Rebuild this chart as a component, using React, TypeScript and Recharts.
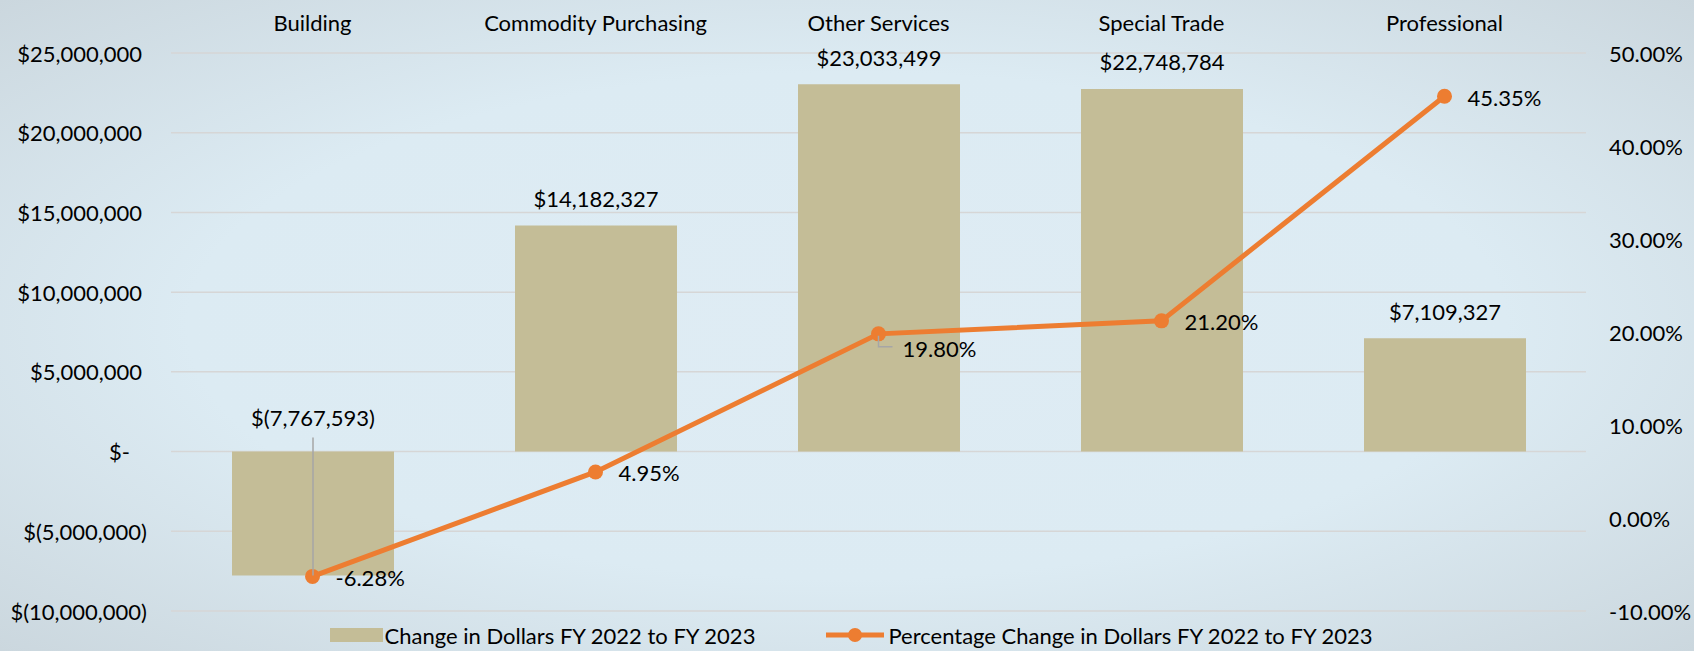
import React from "react";
import {
  ComposedChart,
  Bar,
  Line,
  XAxis,
  YAxis,
  CartesianGrid,
  Legend,
  LabelList,
} from "recharts";

const categories = [
  "Building",
  "Commodity Purchasing",
  "Other Services",
  "Special Trade",
  "Professional",
];
const dollarChange = [-7767593, 14182327, 23033499, 22748784, 7109327];
const percentChange = [-6.28, 4.95, 19.8, 21.2, 45.35];
const dollarTicks = [
  -10000000, -5000000, 0, 5000000, 10000000, 15000000, 20000000, 25000000,
];
const percentTicks = [-10, 0, 10, 20, 30, 40, 50];

const data = categories.map((name, i) => ({
  name,
  dollars: dollarChange[i],
  pct: percentChange[i],
}));

const FONT = "Lato, 'Open Sans', sans-serif";
const FONT_SIZE = 22;
const BAR_COLOR = "#c4bd97";
const LINE_COLOR = "#ed7d31";
const LEADER = "#a6a6a6";

const fmtDollar = (v: number) => {
  if (v === 0) return "$-";
  const s = Math.abs(v).toLocaleString("en-US");
  return v < 0 ? `$(${s})` : `$${s}`;
};

const textProps = {
  fontFamily: FONT,
  fontSize: FONT_SIZE,
  fill: "#000",
  dominantBaseline: "central" as const,
};

const LeftTick = ({ x, y, payload }: any) => {
  const v = payload.value;
  // accounting format: negatives hang the ")" out, zero shows "$-"
  const dx = v < 0 ? 5 : v === 0 ? -12 : 0;
  return (
    <text x={x + dx} y={y} textAnchor="end" {...textProps}>
      {fmtDollar(v)}
    </text>
  );
};

const RightTick = ({ x, y, payload }: any) => (
  <text x={x} y={y} textAnchor="start" {...textProps}>
    {`${Number(payload.value).toFixed(2)}%`}
  </text>
);

const TopTick = ({ x, y, payload }: any) => (
  <text x={x} y={y} textAnchor="middle" {...textProps}>
    {payload.value}
  </text>
);

const BarValueLabel = (props: any) => {
  const { x, y, width, height, value } = props;
  const cx = x + width / 2;
  const top = Math.min(y, y + height);
  const bottom = Math.max(y, y + height);
  if (value < 0) {
    // label was dragged above the baseline in the original, with a leader line
    return (
      <g>
        <line
          x1={cx}
          x2={cx}
          y1={top - 14}
          y2={bottom}
          stroke={LEADER}
          strokeWidth={1.5}
        />
        <text x={cx} y={top - 34} textAnchor="middle" {...textProps}>
          {fmtDollar(value)}
        </text>
      </g>
    );
  }
  return (
    <text x={cx} y={top - 27} textAnchor="middle" {...textProps}>
      {fmtDollar(value)}
    </text>
  );
};

const PctLabel = (props: any) => {
  const { x, y, value, index } = props;
  const label = `${Number(value).toFixed(2)}%`;
  if (index === 2) {
    return (
      <g>
        <polyline
          points={`${x},${y + 2} ${x},${y + 13} ${x + 14},${y + 13}`}
          fill="none"
          stroke={LEADER}
          strokeWidth={1.5}
        />
        <text x={x + 24} y={y + 15} textAnchor="start" {...textProps}>
          {label}
        </text>
      </g>
    );
  }
  return (
    <text x={x + 23} y={y + 1} textAnchor="start" {...textProps}>
      {label}
    </text>
  );
};

const renderLegend = () => (
  <div
    style={{
      display: "flex",
      justifyContent: "center",
      alignItems: "center",
      height: 40,
      paddingTop: 8,
      paddingLeft: 8,
      boxSizing: "border-box",
      fontFamily: FONT,
      fontSize: FONT_SIZE,
      color: "#000",
      whiteSpace: "nowrap",
    }}
  >
    <span
      style={{
        display: "inline-block",
        width: 53,
        height: 14,
        background: BAR_COLOR,
        marginRight: 2,
      }}
    />
    <span>Change in Dollars FY 2022 to FY 2023</span>
    <svg width={58} height={16} style={{ marginLeft: 71, marginRight: 4 }}>
      <line x1={0} x2={58} y1={8} y2={8} stroke={LINE_COLOR} strokeWidth={5} />
      <circle cx={29} cy={8} r={7} fill={LINE_COLOR} />
    </svg>
    <span>Percentage Change in Dollars FY 2022 to FY 2023</span>
  </div>
);

export default function App() {
  return (
    <div
      style={{
        position: "absolute",
        left: 0,
        top: 0,
        width: 1694,
        height: 651,
        background:
          "radial-gradient(ellipse at 50% 50%, #dfecf4 0%, #dcebf3 55%, #cbd7de 100%)",
        fontFamily: FONT,
      }}
    >
      <ComposedChart
        width={1694}
        height={651}
        data={data}
        margin={{ top: 0, right: 0, left: 0, bottom: 0 }}
      >
        <CartesianGrid
          yAxisId="left"
          vertical={false}
          stroke="#d6d6d6"
          strokeWidth={1.5}
        />
        <XAxis
          dataKey="name"
          orientation="top"
          height={53}
          axisLine={false}
          tickLine={false}
          tickSize={0}
          tickMargin={31}
          interval={0}
          tick={<TopTick />}
        />
        <YAxis
          yAxisId="left"
          width={171}
          domain={[-10000000, 25000000]}
          ticks={dollarTicks}
          axisLine={false}
          tickLine={false}
          tickSize={0}
          tickMargin={29}
          tick={<LeftTick />}
        />
        <YAxis
          yAxisId="right"
          orientation="right"
          width={108}
          domain={[-10, 50]}
          ticks={percentTicks}
          axisLine={false}
          tickLine={false}
          tickSize={0}
          tickMargin={23}
          tick={<RightTick />}
        />
        <Legend verticalAlign="bottom" height={40} content={renderLegend} />
        <Bar
          yAxisId="left"
          dataKey="dollars"
          name="Change in Dollars FY 2022 to FY 2023"
          fill={BAR_COLOR}
          barSize={162}
          isAnimationActive={false}
        >
          <LabelList dataKey="dollars" content={<BarValueLabel />} />
        </Bar>
        <Line
          yAxisId="right"
          type="linear"
          dataKey="pct"
          name="Percentage Change in Dollars FY 2022 to FY 2023"
          stroke={LINE_COLOR}
          strokeWidth={5}
          dot={{ r: 7.5, fill: LINE_COLOR, stroke: "none" }}
          activeDot={false}
          isAnimationActive={false}
        >
          <LabelList dataKey="pct" content={<PctLabel />} />
        </Line>
      </ComposedChart>
    </div>
  );
}
